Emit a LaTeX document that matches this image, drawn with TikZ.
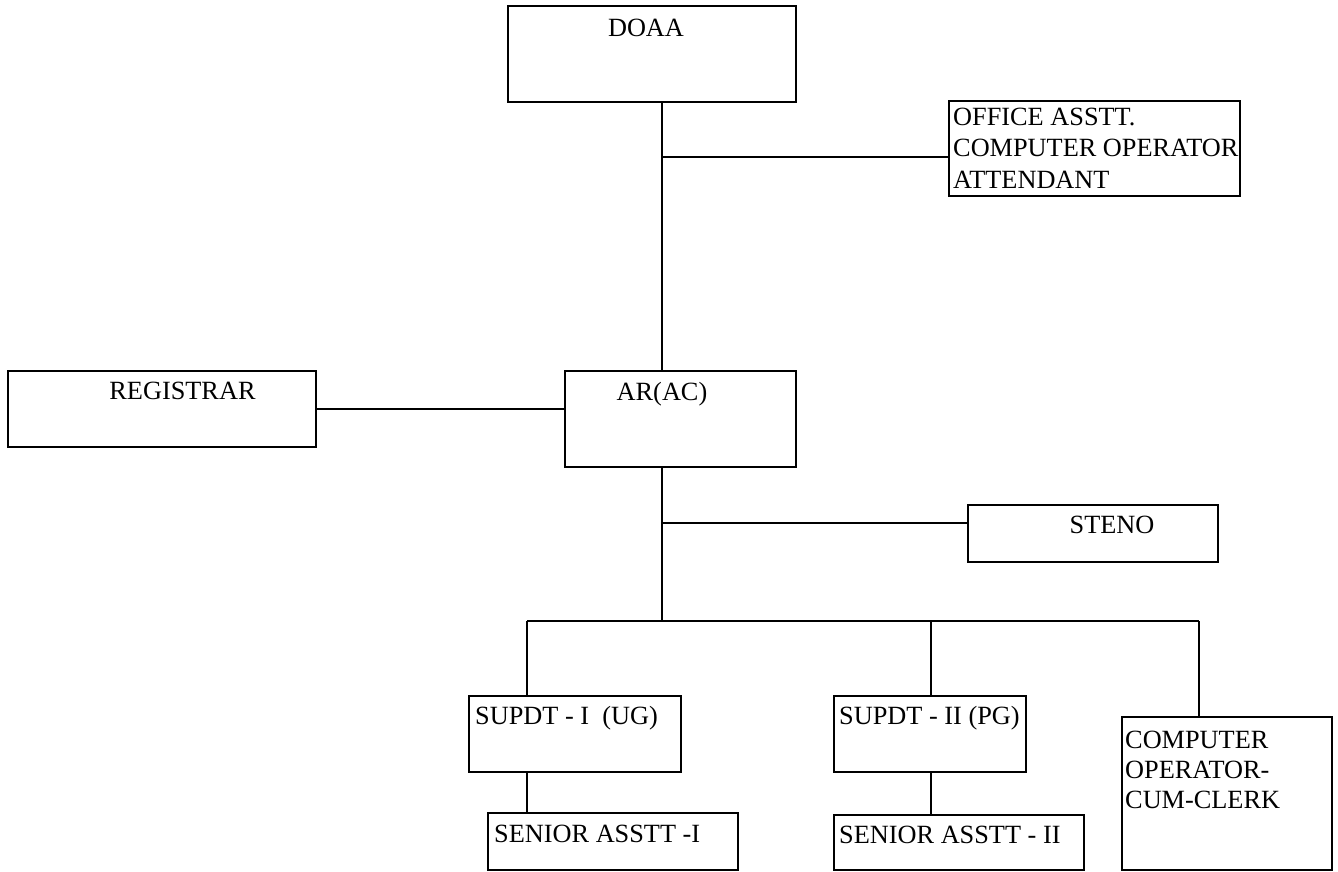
\documentclass[tikz,border=0pt]{standalone}
\usepackage{fontspec}
\setmainfont{Liberation Serif}
\begin{document}
\begin{tikzpicture}[x=1pt,y=-1pt,
  box/.style={draw=black, line width=2pt, inner sep=0pt, fill=white},
  txt/.style={inner sep=0pt, font=\fontsize{26.3}{31}\selectfont},
  conn/.style={draw=black, line width=2pt}]
\useasboundingbox (0,0) rectangle (1338,872);
% boxes
\node[box, minimum width=288, minimum height=96] (doaa) at (652,54) {};
\node[box, minimum width=291, minimum height=95] (office) at (1094.5,148.5) {};
\node[box, minimum width=308, minimum height=76] (reg) at (162,409) {};
\node[box, minimum width=231, minimum height=96] (ar) at (680.5,419) {};
\node[box, minimum width=250, minimum height=57] (steno) at (1093,533.5) {};
\node[box, minimum width=212, minimum height=76] (sup1) at (575,734) {};
\node[box, minimum width=250, minimum height=57] (sen1) at (613,841.5) {};
\node[box, minimum width=192, minimum height=76] (sup2) at (930,734) {};
\node[box, minimum width=250, minimum height=55] (sen2) at (959,842.5) {};
\node[box, minimum width=210, minimum height=153] (clerk) at (1227,793.5) {};
% texts
\node[txt, anchor=base] (doaat) at (646,37) {DOAA};
\node[txt, anchor=base west] (off1) at (953,126) {OFFICE ASSTT.};
\node[txt, anchor=base west] (off2) at (953,157) {COMPUTER OPERATOR};
\node[txt, anchor=base west] (off3) at (953,188) {ATTENDANT};
\node[txt, anchor=base] (regt) at (182.5,399) {REGISTRAR};
\node[txt, anchor=base] (art) at (662,400) {AR(AC)};
\node[txt, anchor=base] (stenot) at (1112,533) {STENO};
\node[txt, anchor=base west] (sup1t) at (475,724) {SUPDT - I\ \ (UG)};
\node[txt, anchor=base west] (sen1t) at (494,842) {SENIOR ASSTT -I};
\node[txt, anchor=base west] (sup2t) at (839,724) {SUPDT - II (PG)};
\node[txt, anchor=base west] (sen2t) at (839,843) {SENIOR ASSTT - II};
\node[txt, anchor=base west] (clk1) at (1125,748) {COMPUTER};
\node[txt, anchor=base west] (clk2) at (1125,778) {OPERATOR-};
\node[txt, anchor=base west] (clk3) at (1125,808) {CUM-CLERK};
% junction coordinates
\coordinate (t) at (662,0);
\coordinate (j1) at (662,157);
\coordinate (j2) at (662,523);
\coordinate (bm) at (662,621);
\coordinate (b1) at (527,621);
\coordinate (b2) at (931,621);
\coordinate (b3) at (1199,621);
% connectors
\draw[conn] (doaa.south -| t) -- (ar.north -| t);
\draw[conn] (j1) -- (j1 -| office.west);
\draw[conn] (reg.east) -- (reg.east -| ar.west);
\draw[conn] (ar.south -| t) -- (bm);
\draw[conn] (j2) -- (j2 -| steno.west);
\draw[conn] (b1) -- (b3);
\draw[conn] (b1) -- (b1 |- sup1.north);
\draw[conn] (b2) -- (b2 |- sup2.north);
\draw[conn] (b3) -- (b3 |- clerk.north);
\draw[conn] (b1 |- sup1.south) -- (b1 |- sen1.north);
\draw[conn] (b2 |- sup2.south) -- (b2 |- sen2.north);
\end{tikzpicture}
\end{document}
